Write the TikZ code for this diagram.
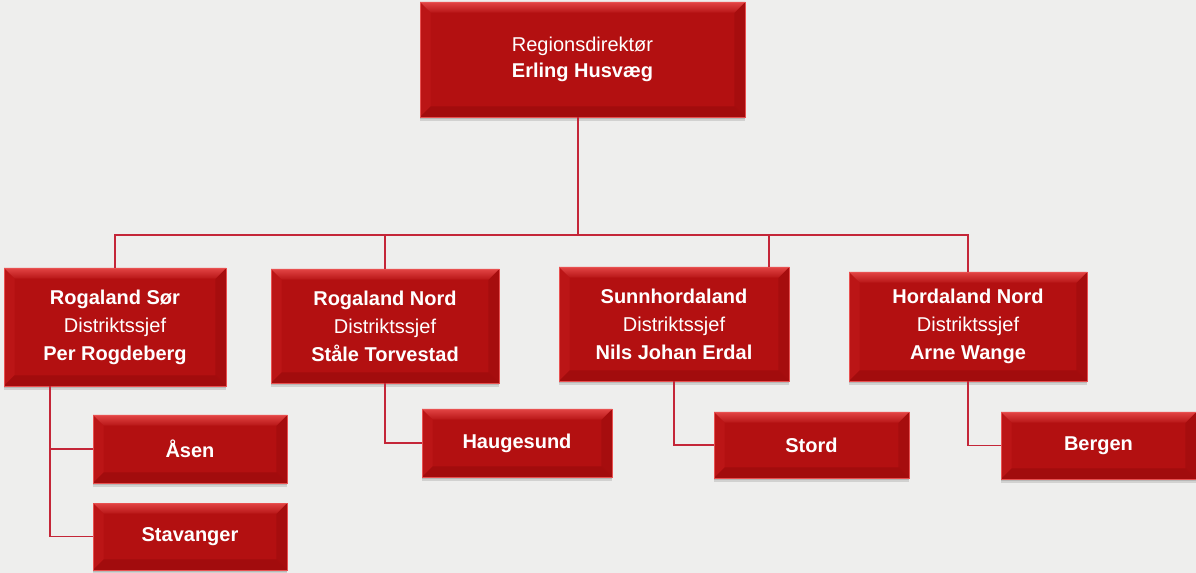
\documentclass[tikz,border=0pt]{standalone}
\usepackage{fontspec}
\setmainfont{Liberation Sans}
\usepackage{xcolor}
\usetikzlibrary{positioning,shadows}

\definecolor{bgcol}{HTML}{EEEEED}
\definecolor{facered}{HTML}{B31011}
\definecolor{topred}{HTML}{E24444}
\definecolor{leftred}{HTML}{BB1516}
\definecolor{sidered}{HTML}{A60D0E}
\definecolor{botred}{HTML}{A20C0D}
\definecolor{edgered}{HTML}{E85050}
\definecolor{linkred}{HTML}{C42638}

\tikzset{
  bevelbox/.style={draw=edgered, line width=0.6pt, fill=facered, text=white,
    align=center, inner sep=0pt, font=\fontsize{15}{21}\selectfont,
    double copy shadow={shadow xshift=0pt, shadow yshift=-1.5pt, opacity=0.12, fill=black, draw=none},
    path picture={
      \fill[leftred] (path picture bounding box.north west) -- ([shift={(8pt,-8pt)}]path picture bounding box.north west)
        -- ([shift={(8pt,8pt)}]path picture bounding box.south west) -- (path picture bounding box.south west) -- cycle;
      \fill[sidered] (path picture bounding box.north east) -- ([shift={(-8pt,-8pt)}]path picture bounding box.north east)
        -- ([shift={(-8pt,8pt)}]path picture bounding box.south east) -- (path picture bounding box.south east) -- cycle;
      \fill[botred] (path picture bounding box.south west) -- ([shift={(8pt,8pt)}]path picture bounding box.south west)
        -- ([shift={(-8pt,8pt)}]path picture bounding box.south east) -- (path picture bounding box.south east) -- cycle;
      \shade[top color=topred, bottom color=facered!90!topred]
        (path picture bounding box.north west) -- (path picture bounding box.north east)
        -- ([shift={(-8pt,-8pt)}]path picture bounding box.north east) -- ([shift={(8pt,-8pt)}]path picture bounding box.north west) -- cycle;
    }},
  boxsize/.style 2 args={minimum width=#1, minimum height=#2},
  link/.style={draw=linkred, line width=1.3pt},
}

\begin{document}
\begin{tikzpicture}[x=0.75pt, y=-0.75pt]
  \fill[bgcol] (0,0) rectangle (1196,573);
  \useasboundingbox (0,0) rectangle (1196,573);

  \node[bevelbox, boxsize={243.75pt}{86.25pt}, font=\fontsize{15}{20}\selectfont] (top) at (582.5,59.5)
    {Regionsdirektør\\ \textbf{Erling Husvæg}};

  \node[bevelbox, boxsize={166.5pt}{88.5pt}] (rs) at (115,327)
    {\textbf{Rogaland Sør}\\ Distriktssjef\\ \textbf{Per Rogdeberg}};
  \node[bevelbox, boxsize={171pt}{85.5pt}] (rn) at (385,326)
    {\textbf{Rogaland Nord}\\ Distriktssjef\\ \textbf{Ståle Torvestad}};
  \node[bevelbox, boxsize={172.5pt}{85.5pt}] (sh) at (674,324)
    {\textbf{Sunnhordaland}\\ Distriktssjef\\ \textbf{Nils Johan Erdal}};
  \node[bevelbox, boxsize={178.5pt}{81.75pt}] (hn) at (968,326.5)
    {\textbf{Hordaland Nord}\\ Distriktssjef\\ \textbf{Arne Wange}};

  \node[bevelbox, boxsize={145.5pt}{51pt}] (asen) at (190,449) {\textbf{Åsen}};
  \node[bevelbox, boxsize={145.5pt}{50.25pt}] (stav) at (190,536.5) {\textbf{Stavanger}};
  \node[bevelbox, boxsize={142.5pt}{51pt}] (haug) at (517,443) {\textbf{Haugesund}};
  \node[bevelbox, boxsize={146.25pt}{49.5pt}] (stord) at (811.5,445) {\textbf{Stord}};
  \node[bevelbox, boxsize={146.25pt}{50.25pt}] (bergen) at (1098.5,445.5) {\textbf{Bergen}};

  \coordinate (bar) at (578,235);
  \coordinate (shdrop) at (769,235);
  \coordinate (rsleg) at (50,386);

  \draw[link] (bar |- top.south) -- (bar);
  \draw[link] (rs.north) -- (rs.north |- bar) -- (hn.north |- bar) -- (hn.north);
  \draw[link] (rn.north) -- (rn.north |- bar);
  \draw[link] (shdrop) -- (shdrop |- sh.north);

  \draw[link] (rsleg) |- (asen.west);
  \draw[link] (rsleg) |- (stav.west);
  \draw[link] (rn.south) |- (haug.west);
  \draw[link] (sh.south) |- (stord.west);
  \draw[link] (hn.south) |- (bergen.west);
\end{tikzpicture}
\end{document}
